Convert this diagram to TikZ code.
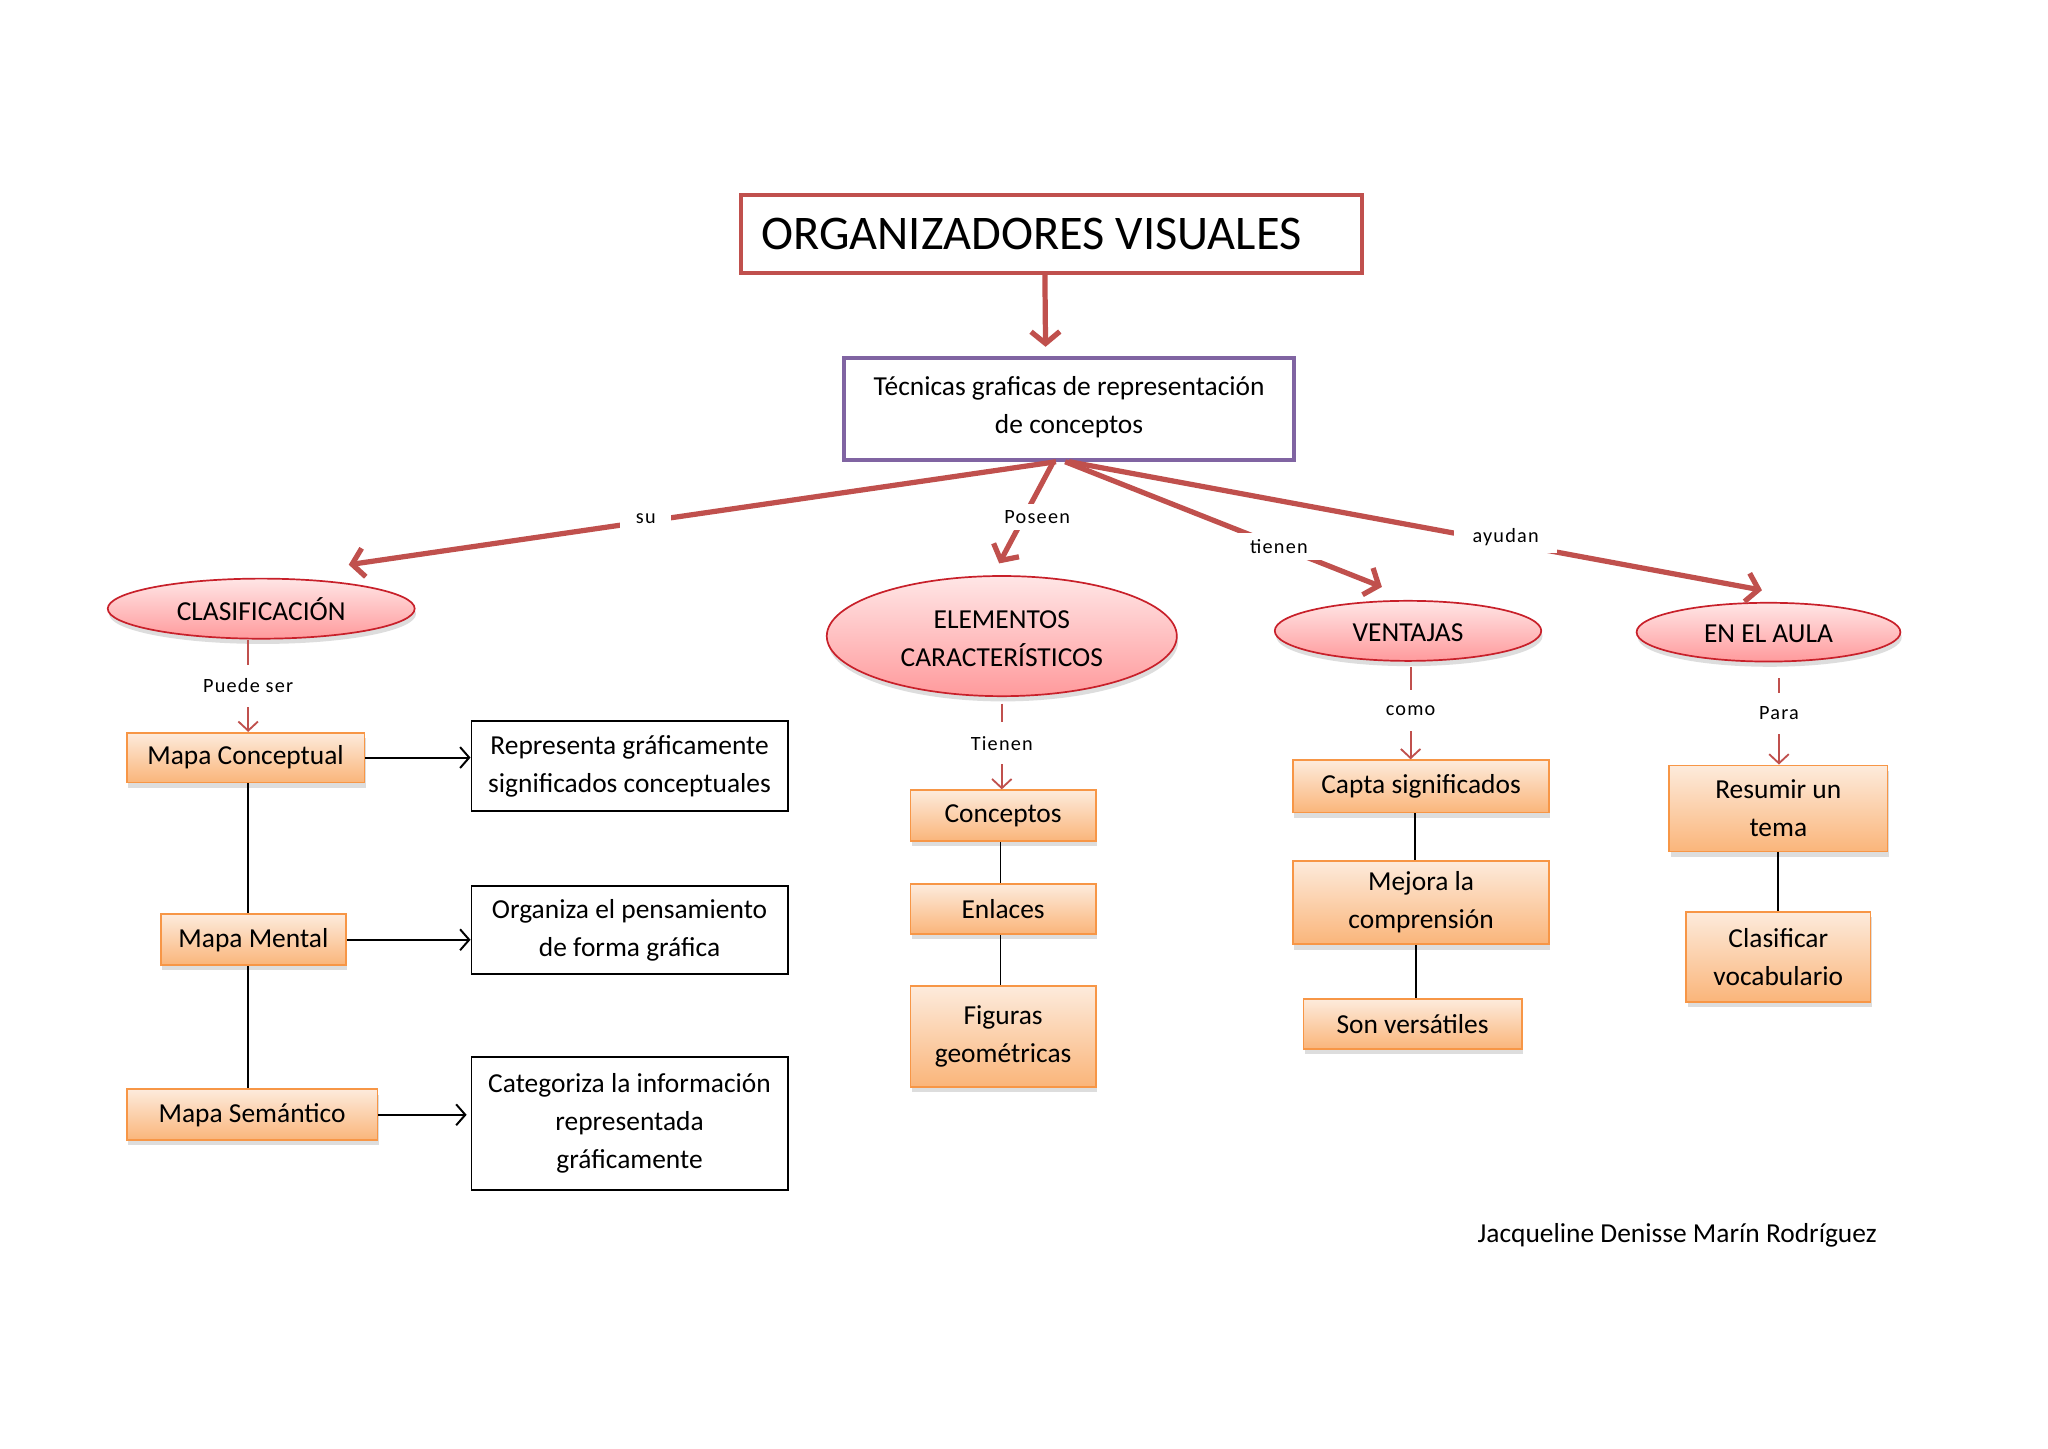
\documentclass[tikz,border=0pt]{standalone}
\usepackage{fontspec}
\setmainfont{Carlito}
\usetikzlibrary{shapes.geometric,arrows.meta,shadows}
\definecolor{redline}{HTML}{C0504D}
\definecolor{ovalborder}{HTML}{C8202A}
\definecolor{ovaltop}{HTML}{FFE6E6}
\definecolor{ovalbot}{HTML}{FF9A9C}
\definecolor{orbord}{HTML}{F79646}
\definecolor{ortop}{HTML}{FDEBDC}
\definecolor{orbot}{HTML}{FAB57A}
\definecolor{purp}{HTML}{8064A2}
\newcommand{\mytext}{\fontsize{21}{29}\selectfont}
\newcommand{\mylbl}{\fontsize{15.5}{18}\selectfont\addfontfeatures{LetterSpace=6}}
\begin{document}
\begin{tikzpicture}[x=1pt,y=-1pt,
  titlebox/.style={draw=redline, line width=3pt, minimum width=476pt, minimum height=60pt,
    text width=444pt, inner xsep=16pt, inner ysep=0pt, align=left, font=\fontsize{37}{44}\selectfont},
  tecbox/.style={draw=purp, line width=3pt, minimum width=345pt, minimum height=78pt,
    inner sep=0pt, align=center, font=\mytext},
  oval/.style={ellipse, draw=ovalborder, line width=1.3pt, top color=ovaltop, bottom color=ovalbot,
    inner sep=0pt, align=center, font=\mytext,
    drop shadow={shadow xshift=1pt, shadow yshift=-4pt, opacity=0.22, fill=black!60}},
  obox/.style={rectangle, draw=orbord, line width=1.3pt, top color=ortop, bottom color=orbot,
    inner sep=0pt, align=center, font=\mytext,
    drop shadow={shadow xshift=1pt, shadow yshift=-4pt, opacity=0.22, fill=black!60}},
  bbox/.style={rectangle, draw=black, line width=1.5pt, fill=white, inner sep=0pt,
    align=center, font=\mytext},
  thickred/.style={draw=redline, line width=4pt, -{Straight Barb[length=9pt,width=22pt]}},
  thinred/.style={draw=redline, line width=1.4pt, -{Straight Barb[length=7pt,width=15pt]}},
  blackarrow/.style={draw=black, line width=1.5pt, -{Straight Barb[length=7pt,width=16pt]}},
  blackline/.style={draw=black, line width=1.5pt},
  biglbl/.style={fill=white, inner xsep=12pt, inner ysep=5pt, font=\mylbl},
  smalllbl/.style={fill=white, inner xsep=4pt, inner ysep=0pt, minimum height=32pt, font=\mylbl}
]
\useasboundingbox (0,0) rectangle (1568,1109);
\fill[white] (0,0) rectangle (1568,1109);

% main nodes
\node[titlebox] (title) at (805,179) {ORGANIZADORES\hspace{-0.1em} VISUALES};
\node[tecbox] (tec) at (818.5,313) {Técnicas graficas de representación\\de conceptos\rule[-6pt]{0pt}{1pt}};

% ellipses
\node[oval, minimum width=235pt, minimum height=46pt] (clas) at (200,466) {CLASIFICACIÓN};
\node[oval, minimum width=268pt, minimum height=92pt] (elem) at (767,487) {\rule{0pt}{17pt}ELEMENTOS\\CARACTERÍSTICOS};
\node[oval, minimum width=204pt, minimum height=46pt] (vent) at (1078,483) {\rule{0pt}{16pt}VENTAJAS};
\node[oval, minimum width=202pt, minimum height=45pt] (aula) at (1354,484) {\rule{0pt}{16pt}EN EL AULA};

% orange boxes
\node[obox, minimum width=182pt, minimum height=38pt] (mc) at (188,580) {Mapa Conceptual};
\node[obox, minimum width=142pt, minimum height=39pt] (mm) at (194,719.5) {Mapa Mental};
\node[obox, minimum width=192pt, minimum height=39pt] (ms) at (193,853.5) {Mapa Semántico};
\node[obox, minimum width=142pt, minimum height=39pt] (conc) at (768,624.5) {Conceptos};
\node[obox, minimum width=142pt, minimum height=38pt] (enl) at (768,696) {Enlaces};
\node[obox, minimum width=142pt, minimum height=77pt] (fig) at (768,793.5) {Figuras\\geométricas};
\node[obox, minimum width=196pt, minimum height=40pt] (capta) at (1088,602) {Capta significados};
\node[obox, minimum width=196pt, minimum height=64pt] (mejora) at (1088,691) {Mejora la\\comprensión};
\node[obox, minimum width=167pt, minimum height=38pt] (son) at (1081.5,784) {Son versátiles};
\node[obox, minimum width=167pt, minimum height=66pt] (res) at (1361.5,619) {Resumir un\\tema};
\node[obox, minimum width=141pt, minimum height=69pt] (clasv) at (1361.5,732.5) {Clasificar\\vocabulario};

% black boxes
\node[bbox, minimum width=242pt, minimum height=69pt] (rep) at (482,586.5) {Representa gráficamente\\significados conceptuales};
\node[bbox, minimum width=242pt, minimum height=68pt] (org) at (482,712) {Organiza el pensamiento\\de forma gráfica};
\node[bbox, minimum width=242pt, minimum height=102pt] (cat) at (482,860) {Categoriza la información\\representada\\gráficamente};

% footer
\node[font=\mytext, anchor=east, inner sep=0pt] (autor) at (1437,946) {Jacqueline Denisse Marín Rodríguez};

% thick red connectors
\draw[thickred] ([xshift=-5pt]title.south) -- ([xshift=-18pt,yshift=7pt]tec.north);
\draw[thickred] ([xshift=-10pt]tec.south) -- node[pos=0.58, biglbl, yshift=2pt]{su} ([xshift=67pt,yshift=10pt]clas.north);
\draw[thickred] ([xshift=-12pt]tec.south) -- node[pos=0.54, biglbl, xshift=10pt, inner xsep=4pt]{Poseen} ([xshift=-2pt,yshift=9pt]elem.north);
\draw[thickred] ([xshift=-3pt]tec.south) -- node[pos=0.675, biglbl]{tienen} ([xshift=-20pt,yshift=10pt]vent.north);
\draw[thickred] (tec.south) -- node[pos=0.63, biglbl, yshift=4pt, inner xsep=14pt]{ayudan} ([xshift=-5pt,yshift=9pt]aula.north);

% thin red connectors
\draw[thinred] ([xshift=-10pt]clas.south) -- node[smalllbl]{Puede ser} ([xshift=-10pt]clas.south |- mc.north);
\draw[thinred, shorten <=5pt] (elem.south) -- node[smalllbl]{Tienen} (elem.south |- conc.north);
\draw[thinred, shorten <=4pt] ([xshift=2pt]vent.south) -- node[smalllbl]{como} ([xshift=2pt]vent.south |- capta.north);
\draw[thinred, shorten <=12pt] ([xshift=8pt]aula.south) -- node[smalllbl]{Para} ([xshift=8pt]aula.south |- res.north);

% black connectors
\draw[blackarrow] (mc.east) -- (mc.east -| rep.west);
\draw[blackarrow] (mm.east) -- (mm.east -| org.west);
\draw[blackarrow, shorten >=3pt] (ms.east) -- (ms.east -| cat.west);
\draw[blackline] ([xshift=2pt]mc.south) -- ([xshift=2pt]mc.south |- mm.north);
\draw[blackline] ([xshift=2pt]mc.south |- mm.south) -- ([xshift=2pt]mc.south |- ms.north);
\draw[blackline] ([xshift=-2pt]conc.south) -- ([xshift=-2pt]conc.south |- enl.north);
\draw[blackline] ([xshift=-2pt]enl.south) -- ([xshift=-2pt]enl.south |- fig.north);
\draw[blackline] ([xshift=-5pt]capta.south) -- ([xshift=-5pt]capta.south |- mejora.north);
\draw[blackline] ([xshift=-4pt]mejora.south) -- ([xshift=-4pt]mejora.south |- son.north);
\draw[blackline] (res.south) -- (clasv.north);
\end{tikzpicture}
\end{document}
